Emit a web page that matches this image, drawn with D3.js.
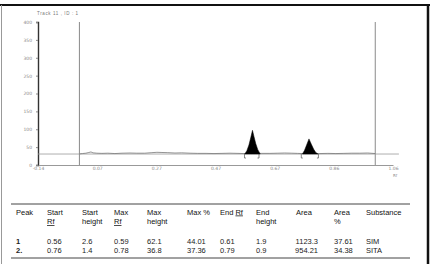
<!DOCTYPE html>
<html>
<head>
<meta charset="utf-8">
<script src="https://cdn.jsdelivr.net/npm/d3@7"></script>
<style>
  body { margin: 0; background: #fff; }
  svg { display: block; font-family: "Liberation Sans", Arial, sans-serif; }
</style>
</head>
<body>
<svg id="chart" width="433" height="264"></svg>
<script>
// densitogram values
const yTicks = [0, 50, 100, 150, 200, 250, 300, 350, 400];
const xTickValues = [-0.14, 0.06, 0.26, 0.46, 0.66, 0.86, 1.06];
const xTickLabels = ['-0.14', '0.07', '0.27', '0.47', '0.67', '0.86', '1.06'];
const baseline = 30.7;
const frontLines = [0, 1.0];

const traceRf = [0, 0.01, 0.022, 0.032, 0.039, 0.046, 0.059, 0.076, 0.096, 0.12, 0.144, 0.171, 0.194,
  0.221, 0.245, 0.262, 0.279, 0.299, 0.323, 0.346, 0.374, 0.4, 0.428, 0.455, 0.482, 0.509, 0.536,
  0.556, 0.617, 0.644, 0.671, 0.694, 0.718, 0.738, 0.755, 0.803, 0.813, 0.84, 0.867, 0.894, 0.921,
  0.948, 0.975, 1.0];
const traceVal = [31, 32, 33, 35, 36.5, 34, 33, 32.5, 33, 32, 33, 33.5, 33,
  33, 34.5, 35.5, 35, 34.5, 33.5, 34, 33, 32.5, 32.5, 32, 32.5, 33, 32.5,
  32, 32.5, 32.5, 33, 33.5, 33, 32.5, 32, 32, 32, 32.5, 32, 32.5, 33,
  33, 33.5, 32];

const peak1 = [[0.559, 31], [0.566, 40], [0.573, 56], [0.579, 76], [0.585, 97], [0.590, 80], [0.596, 60], [0.603, 43], [0.611, 31]];
const peak2 = [[0.754, 31], [0.761, 41], [0.768, 56], [0.776, 73], [0.784, 58], [0.792, 44], [0.799, 35], [0.806, 31]];
const brackets = [[0.558, 0.607], [0.75, 0.808]];

// result table
const headers = [['Peak'], ['Start', 'Rf'], ['Start', 'height'], ['Max', 'Rf'], ['Max', 'height'], ['Max %'],
  ['End Rf'], ['End', 'height'], ['Area'], ['Area', '%'], ['Substance']];
const peakNo = ['1', '2.'];
const startRf = [0.56, 0.76];
const startHeight = [2.6, 1.4];
const maxRf = [0.59, 0.78];
const maxHeight = [62.1, 36.8];
const maxPct = [44.01, 37.36];
const endRf = [0.61, 0.79];
const endHeight = [1.9, 0.9];
const area = [1123.3, 954.21];
const areaPct = [37.61, 34.38];
const substance = ['SIM', 'SITA'];

const svg = d3.select('#chart');

// page frame
svg.append('line').attr('x1', 0).attr('x2', 430).attr('y1', 5).attr('y2', 5)
  .attr('stroke', '#111').attr('stroke-width', 2);
svg.append('line').attr('x1', 1.5).attr('x2', 1.5).attr('y1', 5).attr('y2', 264)
  .attr('stroke', '#999').attr('stroke-width', 1);
svg.append('line').attr('x1', 428).attr('x2', 428).attr('y1', 4).attr('y2', 264)
  .attr('stroke', '#111').attr('stroke-width', 2.5);

const x = d3.scaleLinear().domain([-0.14, 1.06]).range([38, 393]);
const y = d3.scaleLinear().domain([0, 400]).range([165, 22]);

svg.append('text').attr('x', 37).attr('y', 14.5)
  .attr('font-size', 4.5).attr('fill', '#777').attr('letter-spacing', 0.6)
  .text('Track 11 , ID : 1');

// y axis
const yAxis = svg.append('g').attr('transform', 'translate(38,0)')
  .call(d3.axisLeft(y).tickValues(yTicks).tickSize(2).tickPadding(4));
yAxis.select('.domain').attr('stroke', '#333').attr('stroke-width', 1.4);
yAxis.selectAll('.tick line').attr('stroke', '#888');
yAxis.selectAll('.tick text').attr('font-size', 4.5).attr('fill', '#888')
  .attr('font-family', '"DejaVu Sans", sans-serif');

// x axis
const xAxis = svg.append('g').attr('transform', 'translate(0,165)')
  .call(d3.axisBottom(x).tickValues(xTickValues).tickSize(0).tickPadding(2)
    .tickFormat((d, i) => xTickLabels[i]));
xAxis.select('.domain').attr('stroke', '#999').attr('stroke-width', 1);
xAxis.selectAll('.tick text').attr('font-size', 4.5).attr('fill', '#888')
  .attr('font-family', '"DejaVu Sans", sans-serif');
xAxis.append('text').attr('x', x(1.06) + 2).attr('y', 12)
  .attr('font-size', 4).attr('fill', '#888').attr('text-anchor', 'middle')
  .attr('font-family', '"DejaVu Sans", sans-serif').text('Rf');

// application / front lines
svg.selectAll('.front').data(frontLines).enter().append('line')
  .attr('class', 'front')
  .attr('x1', d => x(d)).attr('x2', d => x(d))
  .attr('y1', y(400)).attr('y2', y(0))
  .attr('stroke', '#8a8a8a').attr('stroke-width', 1);

// baseline
svg.append('line')
  .attr('x1', x(-0.14)).attr('x2', x(1.08))
  .attr('y1', y(baseline)).attr('y2', y(baseline))
  .attr('stroke', '#999').attr('stroke-width', 0.8);

// trace
const line = d3.line().x(d => x(d[0])).y(d => y(d[1]));
svg.append('path')
  .datum(traceRf.map((r, i) => [r, traceVal[i]]))
  .attr('d', line)
  .attr('fill', 'none').attr('stroke', '#777').attr('stroke-width', 0.8);

// peaks
const area0 = d3.area().x(d => x(d[0])).y0(y(baseline)).y1(d => y(d[1]));
svg.selectAll('.peak').data([peak1, peak2]).enter().append('path')
  .attr('class', 'peak').attr('d', area0).attr('fill', '#000')
  .attr('stroke', '#000').attr('stroke-width', 0.5);

// integration brackets
brackets.forEach(([s, e]) => {
  const b = y(baseline);
  svg.append('path').attr('d', `M${x(s) + 1.5},${b + 4}H${x(s)}V${b}`)
    .attr('fill', 'none').attr('stroke', '#555').attr('stroke-width', 0.7);
  svg.append('path').attr('d', `M${x(e) - 1.5},${b + 4}H${x(e)}V${b}`)
    .attr('fill', 'none').attr('stroke', '#555').attr('stroke-width', 0.7);
});

// table
const colX = [16, 47, 82, 114, 147, 187, 220, 256, 296, 334, 366];
const rows = [peakNo, startRf, startHeight, maxRf, maxHeight, maxPct, endRf, endHeight, area, areaPct, substance];
const fs = 7.5;

svg.append('line').attr('x1', 11).attr('x2', 410).attr('y1', 204).attr('y2', 204)
  .attr('stroke', '#444').attr('stroke-width', 1);
svg.append('line').attr('x1', 11).attr('x2', 410).attr('y1', 258).attr('y2', 258)
  .attr('stroke', '#444').attr('stroke-width', 1);

headers.forEach((lines, c) => {
  lines.forEach((txt, l) => {
    const t = svg.append('text').attr('x', colX[c]).attr('y', 214.5 + l * 9.5)
      .attr('font-size', fs).attr('fill', '#111');
    if (txt === 'End Rf') {
      t.append('tspan').text('End ');
      t.append('tspan').attr('text-decoration', 'underline').text('Rf');
    } else if (txt === 'Rf') {
      t.attr('text-decoration', 'underline').text(txt);
    } else {
      t.text(txt);
    }
  });
});

rows.forEach((vals, c) => {
  vals.forEach((v, r) => {
    const right = c === 8;
    svg.append('text')
      .attr('x', right ? 318 : colX[c])
      .attr('y', 244 + r * 9)
      .attr('text-anchor', right ? 'end' : 'start')
      .attr('font-size', fs)
      .attr('font-weight', c === 0 ? 'bold' : 'normal')
      .attr('fill', '#222')
      .text(String(v));
  });
});
</script>
</body>
</html>
